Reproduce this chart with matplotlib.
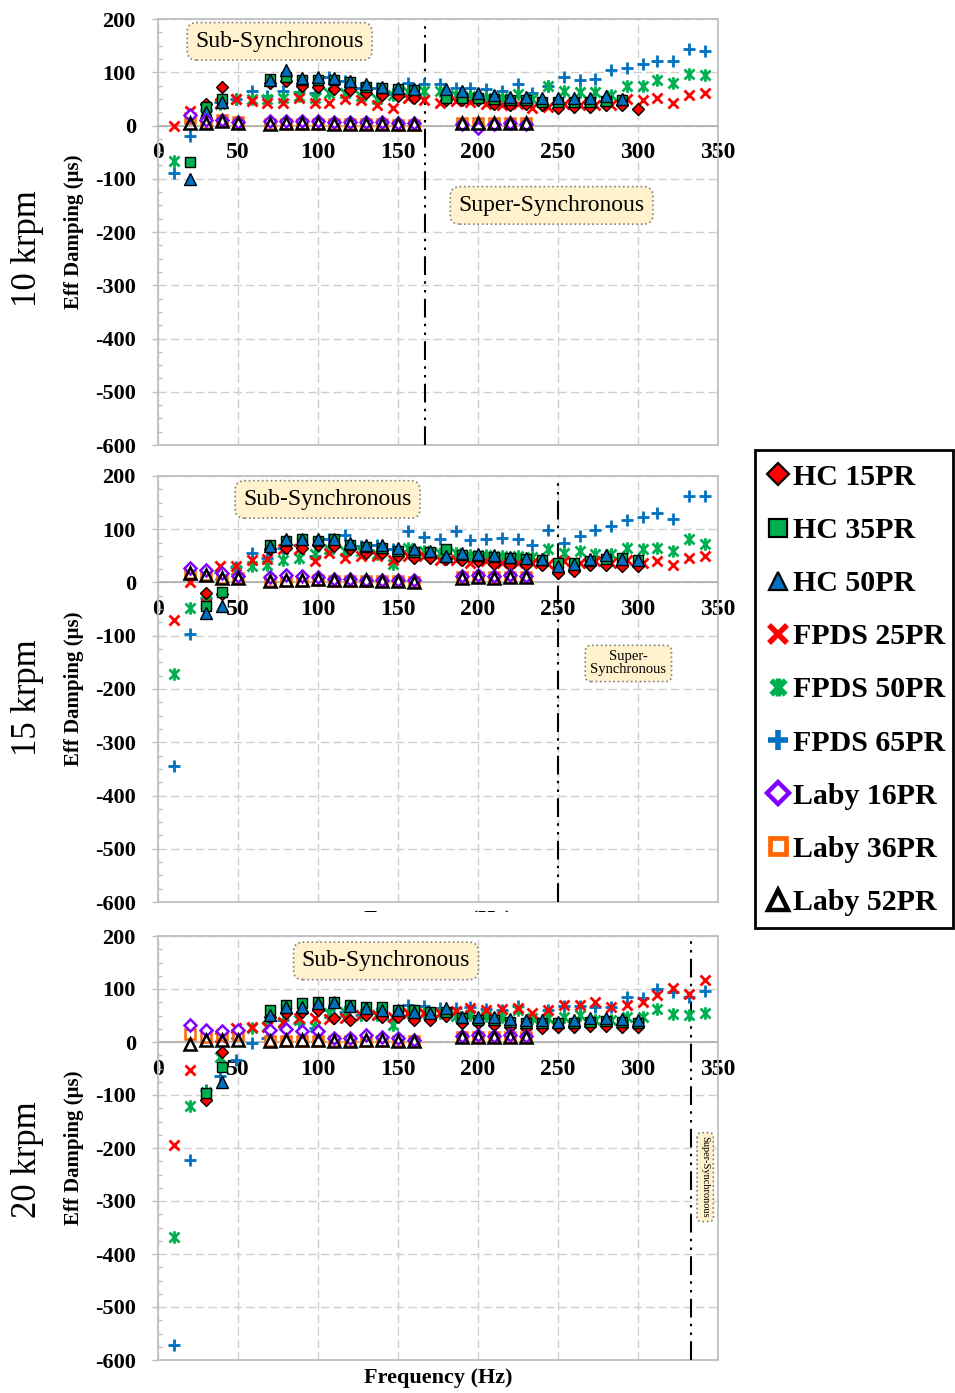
import numpy as np
import matplotlib
matplotlib.use("Agg")
import matplotlib.pyplot as plt
from matplotlib.path import Path
from matplotlib.lines import Line2D
from matplotlib.patches import Rectangle
from matplotlib.ticker import MultipleLocator

plt.rcParams['font.family'] = ['Liberation Serif', 'DejaVu Serif']
plt.rcParams['axes.unicode_minus'] = False

nan = np.nan

# ---------------- data ----------------
speeds = ["10 krpm", "15 krpm", "20 krpm"]
sync_freq = [166.7, 250.0, 333.3]

hc_freq = [20, 30, 40, 70, 80, 90, 100, 110, 120, 130, 140, 150, 160, 170, 180,
           190, 200, 210, 220, 230, 240, 250, 260, 270, 280, 290, 300]
fpds_freq = [10, 20, 30, 39, 49, 59, 68, 78, 88, 98, 107, 117, 127, 137, 147, 156, 166, 176,
             186, 195, 205, 215, 225, 234, 244, 254, 264, 273, 283, 293, 303, 312, 322, 332, 342]
laby_freq = [20, 30, 40, 50, 70, 80, 90, 100, 110, 120, 130, 140, 150, 160, 190, 200, 210, 220, 230]

# 10 krpm
hc15_10 = [nan, 40, 72, 80, 83, 74, 72, 69, 66, 61, 58, 55, 52, nan, 47, 47, 47, 40, 38, 40, 38, 32, 35, 35, 38, 38, 31]
hc35_10 = [-68, 35, 49, 88, 92, 86, 86, 86, 82, 72, 70, 68, 66, nan, 52, 52, 52, 50, 48, 47, 45, 45, 45, 45, 46, 47, nan]
hc50_10 = [-101, 25, 45, 85, 105, 89, 92, 89, 84, 77, 72, 71, 69, nan, 68, 64, 61, 58, 54, 54, 52, 52, 52, 52, 55, 50, nan]
fp25_10 = [-1, 27, 35, 43, 49, 46, 43, 43, 52, 43, 43, 49, 47, 38, 33, 52, 48, 43,
           46, 45, 40, 38, 40, 33, 35, 40, 38, 38, 38, 49, 48, 52, 43, 58, 61]
fp50_10 = [-67, 15, 30, 40, 50, 49, 49, 52, 56, 52, 61, 61, 55, 50, 57, 62, 64, 64,
           58, 56, 52, 52, 60, 50, 75, 64, 62, 62, 58, 74, 74, 85, 80, 96, 94]
fp65_10 = [-90, -19, 30, 45, 50, 64, 55, 64, 63, 61, 92, 83, 71, 71, 60, 79, 77, 77,
           71, 71, 68, 64, 77, 61, 75, 92, 85, 88, 104, 108, 116, 121, 121, 144, 139]
lb16_10 = [19, 11, 10, 6, 8, 8, 8, 8, 6, 6, 6, 6, 5, 5, 3, -5, 3, 4, 3]
lb36_10 = [14, 5, 10, 6, 2, 3, 3, 3, 2, 2, 2, 2, 1, 1, 5, 5, 5, 5, 5]
lb52_10 = [5, 5, 8, 5, 2, 4, 4, 4, 3, 3, 3, 3, 2, 2, 5, 5, 5, 5, 5]

# 15 krpm
hc15_15 = [nan, -19, -22, 62, 65, 65, 70, 68, 62, 56, 55, 49, 46, 46, 45, 43, 40, 34, 32, 32, 32, 18, 21, 32, 32, 31, 31]
hc35_15 = [nan, -44, -18, 71, 77, 81, 77, 81, 70, 66, 64, 60, 58, 57, 62, 52, 50, 48, 46, 44, 42, 37, 37, 40, 44, 46, 43]
hc50_15 = [nan, -58, -44, 68, 81, 81, 82, 82, 74, 71, 70, 65, 63, 60, 49, 56, 54, 51, 48, 46, 44, 31, 34, 44, 51, 44, 43]
fp25_15 = [-71, 0, -40, 31, 31, 43, 45, 63, 62, 40, 55, 46, 49, 49, 43, 49, 49, 43,
           43, 37, 40, 37, 37, 37, 34, 40, 37, 40, 37, 43, 36, 40, 32, 46, 49]
fp50_15 = [-171, -48, -35, 15, 24, 31, 32, 43, 46, 53, 62, 60, 59, 53, 34, 65, 60, 56,
           55, 52, 52, 50, 50, 48, 63, 56, 60, 53, 53, 65, 63, 65, 60, 81, 73]
fp65_15 = [-345, -96, -30, 20, 30, 56, 46, 65, 71, 49, 81, 90, 68, 71, 62, 96, 85, 81,
           96, 79, 81, 84, 81, 70, 99, 74, 88, 98, 106, 118, 123, 130, 120, 162, 162]
lb16_15 = [28, 24, 18, 12, 10, 14, 12, 10, 6, 6, 5, 5, 5, 4, 12, 14, 12, 14, 12]
lb36_15 = [18, 15, 9, 9, 2, 2, 3, 4, 3, 3, 3, 3, 2, 0, 10, 10, 10, 10, 10]
lb52_15 = [18, 15, 9, 9, 3, 5, 5, 6, 4, 4, 4, 3, 3, 0, 9, 10, 9, 10, 10]

# 20 krpm
hc15_20 = [nan, -109, -18, 48, 54, 57, 60, 45, 42, 51, 48, 48, 42, 42, 50, 35, 35, 32, 29, 26, 26, 29, 28, 30, 30, 28, 29]
hc35_20 = [nan, -96, -47, 60, 70, 73, 76, 76, 70, 66, 66, 60, 60, 57, 57, 45, 42, 42, 38, 36, 35, 35, 36, 38, 40, 38, 36]
hc50_20 = [nan, nan, -75, 51, 66, 66, 73, 76, 68, 64, 60, 60, 57, 54, 64, 48, 48, 47, 43, 42, 41, 38, 42, 45, 45, 43, 42]
fp25_20 = [-194, -53, -100, 10, 26, 29, 29, 38, 45, 45, 43, 45, 51, 51, 48, 54, 54, 54,
           58, 64, 60, 62, 64, 54, 60, 70, 70, 76, 66, 70, 76, 89, 101, 90, 117]
fp50_20 = [-368, -121, -95, -28, 15, 26, 30, 35, 42, 29, 54, 57, 51, 51, 32, 55, 54, 54,
           50, 51, 50, 48, 60, 45, 45, 48, 51, 42, 42, 48, 48, 62, 53, 51, 54]
fp65_20 = [-572, -223, -90, -65, -34, -2, 8, 42, 35, 26, 60, 57, 51, 54, 42, 70, 67, 64,
           64, 66, 62, 60, 67, 45, 60, 68, 68, 66, 66, 85, 83, 100, 95, 85, 96]
lb16_20 = [33, 23, 20, 23, 23, 25, 20, 20, 7, 8, 13, 10, 7, 4, 12, 13, 12, 13, 12]
lb36_20 = [16, 10, 13, 13, 1, 2, 2, 2, 1, 1, 2, 2, 1, 1, 9, 9, 9, 9, 9]
lb52_20 = [-3, 4, 3, 4, 1, 4, 3, 3, 2, 2, 3, 3, 1, 1, 9, 9, 9, 9, 9]

series_names = ["HC 15PR", "HC 35PR", "HC 50PR", "FPDS 25PR", "FPDS 50PR", "FPDS 65PR",
                "Laby 16PR", "Laby 36PR", "Laby 52PR"]
panels = [
    [hc15_10, hc35_10, hc50_10, fp25_10, fp50_10, fp65_10, lb16_10, lb36_10, lb52_10],
    [hc15_15, hc35_15, hc50_15, fp25_15, fp50_15, fp65_15, lb16_15, lb36_15, lb52_15],
    [hc15_20, hc35_20, hc50_20, fp25_20, fp50_20, fp65_20, lb16_20, lb36_20, lb52_20],
]

# ---------------- styles ----------------
star = Path([(-1, -1), (1, 1), (-1, 1), (1, -1), (0, -1.25), (0, 1.25)],
            [Path.MOVETO, Path.LINETO, Path.MOVETO, Path.LINETO, Path.MOVETO, Path.LINETO])

RED, GREEN, BLUE, PURPLE, ORANGE = '#FF0000', '#00B050', '#0070C0', '#7F00FF', '#FF6600'
styles = [
    dict(marker='D', ms=6.5, mfc=RED, mec='black', mew=1.0, zorder=6),
    dict(marker='s', ms=7.5, mfc=GREEN, mec='black', mew=1.0, zorder=7),
    dict(marker='^', ms=8.5, mfc=BLUE, mec='black', mew=1.0, zorder=8),
    dict(marker='x', ms=7.5, mfc=RED, mec=RED, mew=2.0, zorder=5),
    dict(marker=star, ms=9, mfc=GREEN, mec=GREEN, mew=2.0, zorder=4),
    dict(marker='+', ms=9, mfc=BLUE, mec=BLUE, mew=2.0, zorder=3),
    dict(marker='D', ms=6.5, mfc='white', mec=PURPLE, mew=1.8, zorder=10),
    dict(marker='s', ms=7.5, mfc='white', mec=ORANGE, mew=1.8, zorder=9),
    dict(marker='^', ms=8, mfc='none', mec='black', mew=1.8, zorder=11),
]
legend_size = [(11, 1.6), (13, 1.6), (13, 1.6), (13, 4.0), (13, 4.0), (14, 4.0), (11, 3.2), (12, 3.4), (14, 3.2)]
freqs = [hc_freq] * 3 + [fpds_freq] * 3 + [laby_freq] * 3

W, H = 955, 1393
fig = plt.figure(figsize=(W / 100, H / 100), dpi=100)

ax_px = [(19, 445), (476, 902), (936, 1360)]
row_label_y = [249, 698, 1160]
box_kw = dict(boxstyle='round,pad=0.35,rounding_size=0.4', fc='#FFF2CC', ec='#7F7F7F', ls=':', lw=1.2)

for i, (top, bot) in enumerate(ax_px):
    ax = fig.add_axes([158 / W, 1 - bot / H, 560 / W, (bot - top) / H])
    data = panels[i]
    for k in range(9):
        st = dict(styles[k])
        z = st.pop('zorder')
        ax.plot(freqs[k], data[k], ls='none', zorder=z, clip_on=False, **st)

    ax.set_xlim(0, 350)
    ax.set_ylim(-600, 200)
    ax.xaxis.set_major_locator(MultipleLocator(50))
    ax.yaxis.set_major_locator(MultipleLocator(100))
    ax.yaxis.set_minor_locator(MultipleLocator(25))
    ax.grid(True, which='major', color='#CFCFCF', ls=(0, (6, 3)), lw=1.0, zorder=0)
    ax.set_axisbelow(True)

    for s in ['top', 'right', 'left']:
        ax.spines[s].set_color('#BFBFBF')
        ax.spines[s].set_linewidth(1.3)
    ax.spines['bottom'].set_position(('data', 0))
    ax.spines['bottom'].set_color('#B0B0B0')
    ax.spines['bottom'].set_linewidth(1.3)
    ax.spines['bottom'].set_zorder(1)
    ax.axhline(-600, color='#BFBFBF', lw=1.3, zorder=1, clip_on=False)

    ax.tick_params(axis='x', length=0, pad=12, labelsize=17, colors='black')
    ax.tick_params(axis='y', which='major', direction='out', length=4, width=1, color='#BFBFBF',
                   pad=12, labelsize=16)
    ax.tick_params(axis='y', which='minor', direction='in', length=3, width=1, color='#BFBFBF')
    for lab in ax.get_xticklabels() + ax.get_yticklabels():
        lab.set_fontweight('bold')

    ax.set_ylabel('Eff Damping (μs)', fontsize=15, fontweight='bold')
    ax.yaxis.set_label_coords(-0.133, 0.5)

    # synchronous line
    ax.axvline(sync_freq[i], color='black', lw=1.5, ls=(0, (9, 3, 1.2, 3, 1.2, 3)), zorder=2)

    fig.text(28 / W, 1 - row_label_y[i] / H, speeds[i], rotation=90, fontsize=25,
             ha='center', va='center')

    if i == 0:
        ax.text(76, 158, 'Sub-Synchronous', fontsize=17, ha='center', va='center', bbox=box_kw, zorder=20)
        ax.text(246, -150, 'Super-Synchronous', fontsize=17, ha='center', va='center', bbox=box_kw, zorder=20)
    elif i == 1:
        ax.text(106, 156, 'Sub-Synchronous', fontsize=17, ha='center', va='center', bbox=box_kw, zorder=20)
        ax.text(294, -152, 'Super-\nSynchronous', fontsize=10.5, ha='center', va='center',
                linespacing=1.0, bbox=box_kw, zorder=20)
    else:
        ax.text(142.5, 153, 'Sub-Synchronous', fontsize=17, ha='center', va='center', bbox=box_kw, zorder=20)
        ax.text(342, -255, 'Super-Synchronous', fontsize=7.5, ha='center', va='center',
                rotation=-90, bbox=dict(box_kw, pad=0.3), zorder=20)

# hidden x-label of the middle panel, mostly covered (as in the source figure)
fig.text(438 / W, 1 - 920 / H, 'Frequency (Hz)', fontsize=16, fontweight='bold', ha='center', va='center')
fig.patches.append(Rectangle((300 / W, 1 - 934 / H), 300 / W, 22 / H, transform=fig.transFigure,
                             facecolor='white', edgecolor='none', zorder=5))

fig.text(438 / W, 1 - 1378 / H, 'Frequency (Hz)', fontsize=16, fontweight='bold', ha='center', va='center')

# legend (frame drawn separately)
fig.patches.append(Rectangle((755 / W, 1 - 928 / H), 198 / W, 478 / H, transform=fig.transFigure,
                             facecolor='white', edgecolor='black', lw=2, zorder=3))
handles = []
for k in range(9):
    st = dict(styles[k])
    st.pop('zorder')
    st['ms'], st['mew'] = legend_size[k]
    handles.append(Line2D([], [], ls='none', **st))
leg = fig.legend(handles, series_names, loc='upper left',
                 bbox_to_anchor=(755 / W, 1 - 452 / H),
                 prop=dict(size=21.5, weight='bold'), frameon=False,
                 labelspacing=0.875, handlelength=0.75, handletextpad=0.12,
                 borderpad=0.4, borderaxespad=0)
leg.set_zorder(6)

fig.savefig('out.png', dpi=100)
